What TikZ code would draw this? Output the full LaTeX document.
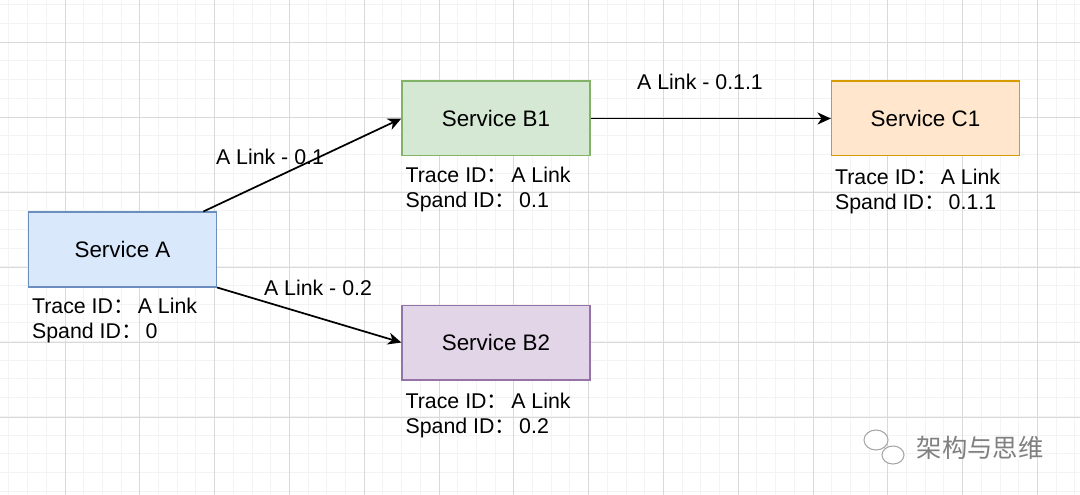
\documentclass[tikz,border=0pt]{standalone}
\usepackage{fontspec}
\setmainfont{Liberation Sans}
\newfontfamily\cjkfont{Noto Sans CJK SC}
\usepackage{tikz}
\usetikzlibrary{arrows.meta}

\definecolor{aFill}{HTML}{DAE8FC}
\definecolor{aLine}{HTML}{6C8EBF}
\definecolor{bFill}{HTML}{D5E8D4}
\definecolor{bLine}{HTML}{82B366}
\definecolor{cFill}{HTML}{FFE6CC}
\definecolor{cLine}{HTML}{D79B00}
\definecolor{dFill}{HTML}{E1D5E7}
\definecolor{dLine}{HTML}{9673A6}
\definecolor{minorGrid}{HTML}{F3F3F3}
\definecolor{majorGrid}{HTML}{D9D9D9}

\newcommand{\fwcolon}{{\cjkfont ：}\hspace{2.5pt}}

\begin{document}
\begin{tikzpicture}[x=0.75pt,y=-0.75pt,>={Stealth[length=10pt,width=9pt,inset=3pt]},
			main node/.style={rectangle,draw,line width=1pt,minimum width=141pt,
				minimum height=56pt,font=\fontsize{16.8pt}{18pt}\selectfont},
			info node/.style={anchor=north west,inner sep=0pt,align=left,
				font=\fontsize{16pt}{18.75pt}\selectfont},
			link label/.style={inner sep=0pt,font=\fontsize{16pt}{18pt}\selectfont}]
	
	\useasboundingbox (0,0) rectangle (1080,495);
	\fill[white] (0,0) rectangle (1080,495);
	
	% background grid
	\foreach \i in {0,...,58}
		\draw[minorGrid,line width=0.75pt] (-9.8+18.7*\i,0) -- (-9.8+18.7*\i,495);
	\foreach \j in {0,...,27}
		\draw[minorGrid,line width=0.75pt] (0,-13.8+18.7*\j) -- (1080,-13.8+18.7*\j);
	\foreach \i in {0,...,14}
		\draw[majorGrid,line width=0.75pt] (-9.8+74.8*\i,0) -- (-9.8+74.8*\i,495);
	\foreach \j in {0,...,6}
		\draw[majorGrid,line width=0.75pt] (0,-31.8+74.8*\j) -- (1080,-31.8+74.8*\j);
	
	\node[main node,fill=aFill,draw=aLine] (A) at (122.5,249.5) {Service A};
	\node[main node,fill=bFill,draw=bLine] (B1) at (496,118.5) {Service B1};
	\node[main node,fill=cFill,draw=cLine] (C1) at (925.5,118.5) {Service C1};
	\node[main node,fill=dFill,draw=dLine] (B2) at (496,342.5) {Service B2};
	
	\node[info node] (infoA) at ([shift={(4,10)}]A.south west)
		{Trace ID\fwcolon A Link\\Spand ID\fwcolon 0};
	\node[info node] (infoB1) at ([shift={(4,10)}]B1.south west)
		{Trace ID\fwcolon A Link\\Spand ID\fwcolon 0.1};
	\node[info node] (infoC1) at ([shift={(4,12)}]C1.south west)
		{Trace ID\fwcolon A Link\\Spand ID\fwcolon 0.1.1};
	\node[info node] (infoB2) at ([shift={(4,12)}]B2.south west)
		{Trace ID\fwcolon A Link\\Spand ID\fwcolon 0.2};
	
	\path[->,line width=1.3pt]
	(A) edge (B1.west)
	(A.south east) edge (B2.west)
	(B1) edge (C1);
	
	\node[link label] (lab01) at (270,157) {A Link - 0.1};
	\node[link label] (lab02) at (318,288) {A Link - 0.2};
	\node[link label] (lab011) at (700,82) {A Link - 0.1.1};
	
	% watermark
	\draw[gray!70,fill=white,line width=0.8pt] (876,440) ellipse (12 and 10);
	\draw[gray!70,fill=white,line width=0.8pt] (893,455) ellipse (11 and 9);
	\node[text=gray,font=\cjkfont\fontsize{19pt}{19pt}\selectfont] (mark) at (980,448) {架构与思维};
\end{tikzpicture}
\end{document}
